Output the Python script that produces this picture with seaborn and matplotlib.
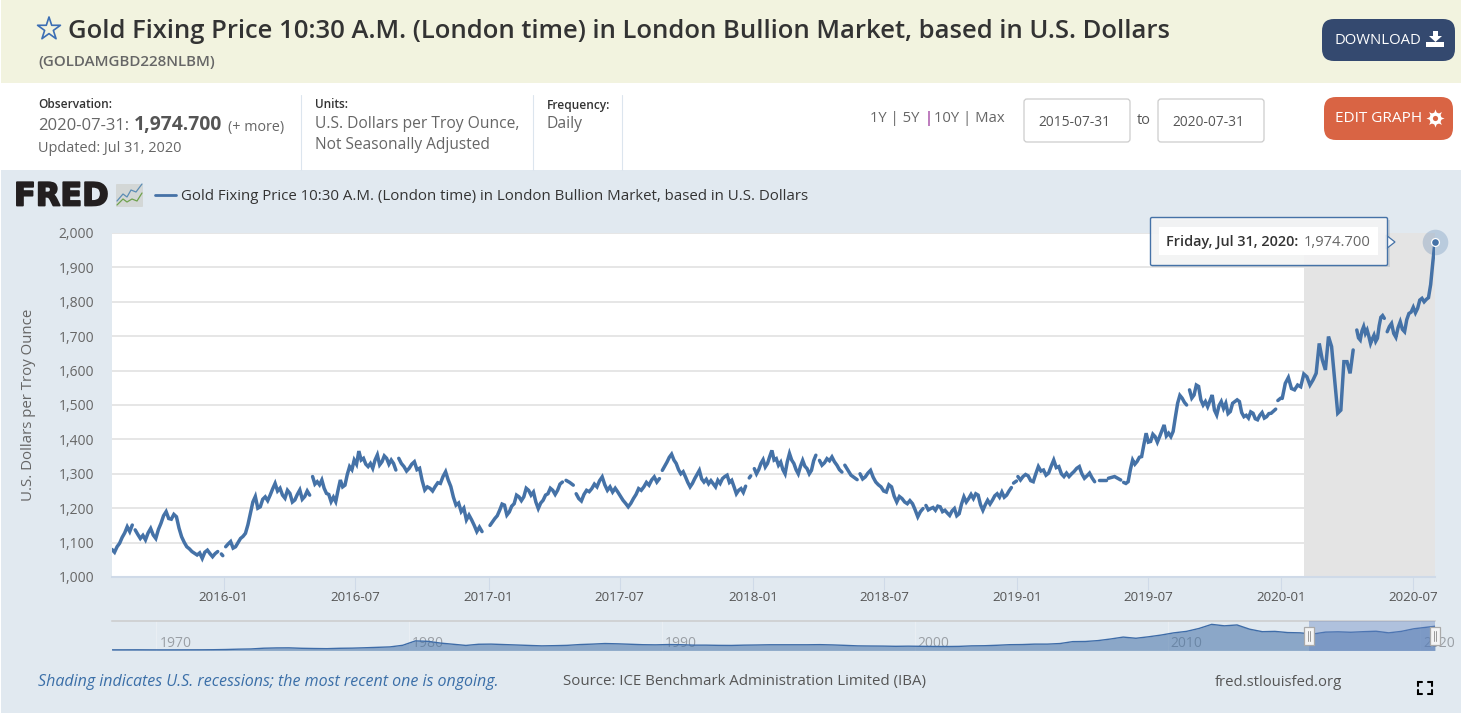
import pandas as pd
import numpy as np
import seaborn as sns
import matplotlib.pyplot as plt
import matplotlib.dates as mdates
import matplotlib.patheffects as pe
from matplotlib.patches import Rectangle, FancyBboxPatch, Polygon
from matplotlib.ticker import FuncFormatter

W, H = 1461, 713
BLUE = '#4572A7'
PANEL = '#E1E9F0'

# gold price, one list per stretch between market holidays
seg_dates = [
    ('2015-07-31', '2015-08-28'), ('2015-09-01', '2015-12-24'), ('2015-12-29', '2015-12-31'),
    ('2016-01-04', '2016-04-29'), ('2016-05-03', '2016-08-26'), ('2016-08-30', '2016-12-23'),
    ('2017-01-03', '2017-04-13'), ('2017-04-18', '2017-04-28'), ('2017-05-02', '2017-08-25'),
    ('2017-08-29', '2017-12-22'), ('2017-12-27', '2017-12-29'), ('2018-01-03', '2018-03-29'),
    ('2018-04-03', '2018-05-04'), ('2018-05-08', '2018-05-25'), ('2018-05-29', '2018-08-24'),
    ('2018-08-28', '2018-12-24'), ('2018-12-27', '2018-12-31'), ('2019-01-02', '2019-04-18'),
    ('2019-04-24', '2019-05-03'), ('2019-05-07', '2019-05-24'), ('2019-05-28', '2019-08-23'),
    ('2019-08-27', '2019-12-24'), ('2019-12-27', '2019-12-31'), ('2020-01-02', '2020-04-09'),
    ('2020-04-14', '2020-05-22'), ('2020-05-26', '2020-07-31'),
]
s01 = [1080, 1072, 1088, 1098, 1115, 1128, 1146, 1132, 1151]
s02 = [1137, 1124, 1112, 1121, 1108, 1128, 1141, 1122, 1112, 1138, 1156, 1178, 1190, 1170, 1168, 1182, 1175,
       1142, 1117, 1101, 1088, 1082, 1074, 1069, 1064, 1070, 1054, 1072, 1078, 1068, 1059, 1068, 1074]
s03 = [1067, 1062]
s04 = [1088, 1096, 1103, 1084, 1088, 1100, 1112, 1118, 1127, 1152, 1185, 1218, 1234, 1200, 1204, 1226, 1233, 1222,
       1238, 1256, 1272, 1250, 1258, 1238, 1229, 1252, 1243, 1218, 1224, 1240, 1253, 1226, 1234, 1250, 1238]
s05 = [1292, 1270, 1277, 1268, 1282, 1258, 1243, 1240, 1219, 1232, 1219, 1252, 1282, 1262, 1267, 1298, 1321, 1312,
       1340, 1328, 1366, 1340, 1345, 1328, 1321, 1330, 1316, 1340, 1355, 1326, 1335, 1352, 1345, 1328, 1340, 1330, 1311]
s06 = [1345, 1330, 1321, 1308, 1316, 1328, 1335, 1312, 1316, 1280, 1253, 1262, 1258, 1250, 1263, 1274, 1272, 1292,
       1306, 1282, 1263, 1232, 1209, 1215, 1190, 1200, 1166, 1180, 1166, 1150, 1132, 1145, 1132]
s07 = [1150, 1160, 1170, 1178, 1194, 1212, 1209, 1180, 1189, 1206, 1213, 1238, 1233, 1222, 1233, 1258,
       1252, 1238, 1247, 1218, 1199, 1215, 1223, 1238, 1242, 1258, 1252, 1240, 1252, 1270, 1276]
s08 = [1281, 1275, 1267]
s09 = [1242, 1228, 1221, 1240, 1252, 1248, 1257, 1270, 1262, 1280, 1291, 1268, 1252, 1262, 1247, 1258, 1247,
       1235, 1223, 1214, 1204, 1214, 1228, 1240, 1257, 1252, 1262, 1275, 1267, 1282, 1291, 1276, 1286]
s10 = [1310, 1322, 1334, 1348, 1357, 1340, 1330, 1312, 1300, 1306, 1291, 1275, 1262, 1272, 1286, 1298, 1310, 1285,
       1276, 1284, 1271, 1280, 1271, 1262, 1281, 1272, 1286, 1292, 1296, 1275, 1281, 1262, 1242, 1252, 1257, 1246, 1264]
s11 = [1288, 1294]
s12 = [1315, 1300, 1312, 1330, 1341, 1320, 1330, 1350, 1368, 1340, 1344, 1325, 1334, 1312, 1300,
       1335, 1359, 1340, 1330, 1312, 1300, 1322, 1339, 1322, 1315, 1300, 1310, 1338, 1354]
s13 = [1339, 1325, 1332, 1344, 1338, 1349, 1335, 1325, 1312, 1305]
s14 = [1325, 1296, 1283]
s15 = [1300, 1285, 1291, 1302, 1310, 1290, 1276, 1268, 1262, 1250, 1247, 1268, 1262, 1235, 1218, 1234, 1228,
       1218, 1213, 1222, 1213, 1195, 1175, 1190, 1199]
s16 = [1208, 1195, 1199, 1202, 1194, 1206, 1204, 1190, 1194, 1186, 1179, 1192, 1199, 1178, 1184, 1212, 1233, 1218, 1228,
       1240, 1228, 1242, 1238, 1210, 1194, 1210, 1223, 1212, 1223, 1236, 1242, 1232, 1247, 1232, 1238, 1250, 1260]
s17 = [1273, 1279]
s18 = [1292, 1282, 1292, 1298, 1294, 1280, 1277, 1300, 1321, 1308, 1311, 1296, 1302, 1322, 1340, 1318,
       1321, 1300, 1292, 1302, 1292, 1300, 1307, 1316, 1321, 1300, 1287, 1294, 1302, 1288, 1277]
s19 = [1282, 1282]
s20 = [1287, 1292, 1282]
s21 = [1275, 1272, 1277, 1312, 1340, 1328, 1336, 1348, 1350, 1385, 1418, 1392, 1394, 1415, 1408,
       1392, 1408, 1425, 1442, 1410, 1418, 1408, 1423, 1465, 1505, 1528, 1520, 1508, 1500]
s22 = [1544, 1520, 1529, 1558, 1554, 1515, 1500, 1510, 1495, 1512, 1529, 1485, 1471, 1498, 1510, 1490, 1505, 1475, 1481, 1505,
       1510, 1515, 1510, 1478, 1466, 1470, 1462, 1480, 1476, 1460, 1457, 1470, 1478, 1462, 1466, 1475, 1476, 1482, 1488]
s23 = [1513, 1520]
s24 = [1519, 1563, 1580, 1548, 1544, 1558, 1553, 1590, 1582, 1558, 1573, 1592, 1679, 1631, 1602, 1699, 1670, 1573, 1476, 1485, 1626, 1626, 1592, 1660]
s25 = [1718, 1695, 1689, 1715, 1728, 1708, 1718, 1700, 1679, 1692, 1703, 1685, 1694, 1730, 1755, 1760, 1752]
s26 = [1713, 1728, 1737, 1708, 1697, 1725, 1742, 1720, 1713, 1748, 1766, 1770, 1784, 1768, 1781, 1805, 1810, 1800, 1807, 1812, 1850, 1915, 1974.7]
seg_values = [s01, s02, s03, s04, s05, s06, s07, s08, s09, s10, s11, s12, s13,
              s14, s15, s16, s17, s18, s19, s20, s21, s22, s23, s24, s25, s26]

# navigator, two readings a year from 1968 on
nav_years = np.arange(1968.25, 2020.6, 0.5)
nav_values = [40, 40, 42, 38, 36, 37, 40, 42, 48, 62, 85, 100, 150, 170, 175, 145, 130, 120, 145, 155,
              180, 210, 240, 350, 650, 620, 500, 420, 340, 420, 430, 400, 370, 340, 310, 325, 345, 400,
              430, 470, 450, 420, 390, 380, 400, 390, 360, 360, 345, 340, 360, 370, 385, 385, 385, 385,
              395, 375, 345, 310, 300, 295, 280, 290, 280, 270, 265, 275, 310, 320, 350, 390, 400, 430,
              430, 470, 600, 610, 670, 780, 910, 830, 930, 1050, 1200, 1300, 1500, 1780, 1680, 1740,
              1450, 1280, 1300, 1220, 1200, 1120, 1250, 1270, 1240, 1280, 1310, 1200, 1300, 1480, 1650]
nav_labels = ['1970', '1980', '1990', '2000', '2010', '2020']

x_ticks = ['2016-01', '2016-07', '2017-01', '2017-07', '2018-01', '2018-07', '2019-01', '2019-07', '2020-01', '2020-07']
y_ticks = [1000, 1100, 1200, 1300, 1400, 1500, 1600, 1700, 1800, 1900, 2000]

frames = []
for i, ((a, b), vals) in enumerate(zip(seg_dates, seg_values)):
    frames.append(pd.DataFrame({'date': pd.date_range(a, b, periods=len(vals)), 'price': vals, 'seg': i}))
df = pd.concat(frames, ignore_index=True)

nav_dates = [pd.Timestamp(int(y), 4 if y % 1 < 0.5 else 10, 1) for y in nav_years]
nav_dates[-1] = pd.Timestamp('2020-07-31')
nav = pd.DataFrame({'date': nav_dates, 'price': nav_values[:len(nav_dates)]})

sns.set_theme(style='white')
plt.rcParams['font.family'] = ['Open Sans', 'DejaVu Sans']

fig = plt.figure(figsize=(W / 100, H / 100), dpi=100, facecolor='white')


def px_axes(x0, y0, x1, y1, z):
    return fig.add_axes([x0 / W, 1 - y1 / H, (x1 - x0) / W, (y1 - y0) / H], zorder=z)


# page furniture in pixel coordinates
bg = px_axes(0, 0, W, H, 0)
bg.set_xlim(0, W)
bg.set_ylim(H, 0)
bg.axis('off')
fg = px_axes(0, 0, W, H, 5)
fg.set_xlim(0, W)
fg.set_ylim(H, 0)
fg.axis('off')
fg.patch.set_alpha(0)

bg.add_patch(Rectangle((1, 0), W, 83, color='#F2F3DF', lw=0))
bg.add_patch(Rectangle((1, 170), W, H - 170, color=PANEL, lw=0))
for x in [301, 533, 622]:
    bg.plot([x, x], [95, 170], color='#DCE5EE', lw=0.8)


def put(ax, s, x0, x1, y, size, color='#555555', weight='normal', style='normal', ha='left', family=None):
    # size the string so it spans the same pixels as the original
    t = ax.text(x0, y + 2, s, fontsize=size, color=color, fontweight=weight, fontstyle=style,
                ha=ha, va='center', family=family)
    if x1 is not None:
        w = t.get_window_extent(fig.canvas.get_renderer()).width
        t.set_fontsize(size * (x1 - x0) / w)
    return t


put(bg, 'Gold Fixing Price 10:30 A.M. (London time) in London Bullion Market, based in U.S. Dollars',
    68, 1170, 30, 17, color='#333333', weight='semibold')
put(bg, '(GOLDAMGBD228NLBM)', 38, 214, 60, 9, color='#666666', weight='semibold')
bg.scatter([49], [29], marker='*', s=300, facecolor='none', edgecolor='#3C6EB4', linewidth=1.2)

put(bg, 'Observation:', 38, 112, 103, 8, color='#333333', weight='semibold')
put(bg, '2020-07-31:', 38, 129, 124, 10, color='#666666')
put(bg, '1,974.700', 134, 222, 123, 13, color='#555555', weight='bold')
put(bg, '(+ more)', 228, 284, 125, 9, color='#666666')
put(bg, 'Updated: Jul 31, 2020', 38, 182, 146, 10, color='#666666')
put(bg, 'Units:', 315, 348, 103, 8, color='#333333', weight='semibold')
put(bg, 'U.S. Dollars per Troy Ounce,', 315, 521, 122, 10.5, color='#666666')
put(bg, 'Not Seasonally Adjusted', 315, 491, 143, 10.5, color='#666666')
put(bg, 'Frequency:', 547, 610, 103, 8, color='#333333', weight='semibold')
put(bg, 'Daily', 547, 583, 122, 10.5, color='#666666')

put(bg, '1Y | 5Y', 870, 920, 116, 10.5, color='#666666')
put(bg, '|', 924, None, 116, 10.5, color='#800080')
put(bg, '10Y | Max', 934, 1005, 116, 10.5, color='#666666')
for x0, x1, s in [(1024, 1130, '2015-07-31'), (1158, 1264, '2020-07-31')]:
    bg.add_patch(FancyBboxPatch((x0 + 3, 102), x1 - x0 - 6, 37, boxstyle='round,pad=3', fc='white', ec='#CCCCCC', lw=0.9))
    put(bg, s, x0 + 14, x0 + 86, 120, 9.5, color='#555555')
put(bg, 'to', 1137, 1151, 119, 10.5, color='#555555')

# buttons
bg.add_patch(FancyBboxPatch((1334, 31), 109, 18, boxstyle='round,pad=12', fc='#34496F', ec='none'))
put(bg, 'DOWNLOAD', 1334, 1421, 38, 10.5, color='white')
bg.add_patch(Polygon([[1433, 31], [1438, 31], [1438, 36], [1442, 36], [1435.5, 42], [1429, 36], [1433, 36]], fc='white', ec='none'))
bg.add_patch(Rectangle((1426, 42), 18, 5, fc='white', ec='none'))
bg.add_patch(FancyBboxPatch((1336, 109), 105, 19, boxstyle='round,pad=12', fc='#D96444', ec='none'))
put(bg, 'EDIT GRAPH', 1335, 1422, 116, 10.5, color='white')
bg.scatter([1435], [118], marker=(8, 1, 0), s=170, color='white', lw=0)
bg.scatter([1435], [118], marker='o', s=75, color='white', lw=0)
bg.scatter([1435], [118], marker='o', s=14, color='#D96444', lw=0)

# FRED logo and legend line
logo = put(bg, 'FRED', 14, 109, 195, 24, color='#231F20', weight='bold', family='DejaVu Sans')
logo.set_path_effects([pe.withStroke(linewidth=1.3, foreground='#231F20')])
bg.add_patch(FancyBboxPatch((117, 185), 25, 21, boxstyle='round,pad=1', fc='#D3D7D6', ec='none'))
bg.plot([117, 123, 127, 131, 136, 142], [201, 194, 197, 190, 192, 184], color='#5B8DB5', lw=0.9)
bg.plot([117, 123, 127, 132, 137, 142], [205, 199, 202, 199, 201, 193], color='#6FA24E', lw=0.9)
bg.plot([155, 176], [195, 195], color=BLUE, lw=2)
put(bg, 'Gold Fixing Price 10:30 A.M. (London time) in London Bullion Market, based in U.S. Dollars',
    181, 806, 194, 10, color='#333333')

# main chart
ax = px_axes(112, 233, 1435, 577, 2)
ax.set_facecolor('white')
sns.lineplot(data=df, x='date', y='price', units='seg', estimator=None, color=BLUE, lw=2.5,
             solid_joinstyle='miter', solid_capstyle='round', legend=False, ax=ax, zorder=3)
ax.axvspan(pd.Timestamp('2020-02-01'), pd.Timestamp('2020-07-31'), color='#E4E4E4', lw=0, zorder=1)
ax.set_xlim(pd.Timestamp('2015-07-31'), pd.Timestamp('2020-07-31'))
ax.set_ylim(1000, 2000)
ax.set_yticks(y_ticks)
ax.yaxis.set_major_formatter(FuncFormatter(lambda v, p: f'{int(v):,}'))
ax.set_xticks([pd.Timestamp(t + '-01') for t in x_ticks])
ax.xaxis.set_major_formatter(mdates.DateFormatter('%Y-%m'))
ax.grid(axis='y', color='#E6E6E6', lw=1.4, zorder=2)
ax.grid(axis='x', visible=False)
ax.set_axisbelow(True)
for s in ['top', 'left', 'right']:
    ax.spines[s].set_visible(False)
ax.spines['bottom'].set_color('#CFDAE8')
ax.spines['bottom'].set_linewidth(1.5)
ax.tick_params(axis='x', length=9, width=0.8, color='#CFDAE8', labelcolor='#555555', labelsize=9.6, pad=1, bottom=True)
ax.tick_params(axis='y', length=0, labelcolor='#666666', labelsize=10, pad=13, left=False)
ax.set_xlabel('')
ax.set_ylabel('')
bg.text(29, 405, 'U.S. Dollars per Troy Ounce', rotation=90, ha='center', va='center', fontsize=10.8, color='#666666')

# navigator strip
ax2 = px_axes(112, 621, 1435, 651, 3)
ax2.patch.set_alpha(0)
ax2.fill_between(nav['date'], nav['price'], 0, color=BLUE, alpha=0.55, lw=0, zorder=3)
sns.lineplot(data=nav, x='date', y='price', color='#3E6CA8', lw=1, legend=False, ax=ax2, zorder=4)
ax2.axvspan(pd.Timestamp('2015-07-31'), pd.Timestamp('2020-07-31'), color='#6685C2', alpha=0.4, lw=0, zorder=5)
ax2.set_xlim(pd.Timestamp('1968-04-01'), pd.Timestamp('2020-07-31'))
ax2.set_ylim(-40, 2010)
for lab in nav_labels:
    d = pd.Timestamp(lab + '-01-01')
    ax2.axvline(d, color='#E9EEF3', lw=0.8, zorder=1)
    ax2.annotate(lab, (d, 0.26), xycoords=('data', 'axes fraction'), xytext=(3, 0), textcoords='offset pixels',
                 color='#9A9FA5', fontsize=10, va='center', ha='left', zorder=2, annotation_clip=False)
ax2.set_xticks([])
ax2.set_yticks([])
ax2.set_xlabel('')
ax2.set_ylabel('')
for s in ['left', 'right', 'bottom']:
    ax2.spines[s].set_visible(False)
ax2.spines['top'].set_color('#CCCCCC')
ax2.spines['top'].set_linewidth(1.1)

for x0 in [1304, 1430]:
    fg.add_patch(Rectangle((x0, 627), 9.5, 18, fc='#F5F5F5', ec='#AAAAAA', lw=0.9))
    fg.plot([x0 + 3.6, x0 + 3.6], [631, 641], color='#999999', lw=0.7)
    fg.plot([x0 + 6, x0 + 6], [631, 641], color='#999999', lw=0.7)

# tooltip and end marker
fg.add_patch(Polygon([[1386, 235], [1395, 242], [1386, 249]], fc='#F6F7F8', ec=BLUE, lw=0.9, zorder=3))
fg.add_patch(Rectangle((1151.5, 219.5), 238, 47, fc='#9AA6B2', ec='none', alpha=0.35, zorder=2))
fg.add_patch(FancyBboxPatch((1152, 219), 234, 45, boxstyle='round,pad=1.5', fc=(0.97, 0.97, 0.97, 0.88), ec=BLUE, lw=1, zorder=4))
fg.add_patch(Rectangle((1159, 227), 219, 28, fc='white', ec='none', zorder=5))
put(fg, 'Friday, Jul 31, 2020:', 1166, 1299, 240, 10, color='#333333', weight='semibold').set_zorder(6)
put(fg, '1,974.700', 1304, 1371, 240, 10, color='#666666').set_zorder(6)
ax.scatter([pd.Timestamp('2020-07-31')], [s26[-1]], s=340, color=BLUE, alpha=0.25, lw=0, zorder=6, clip_on=False)
ax.scatter([pd.Timestamp('2020-07-31')], [s26[-1]], s=32, color=BLUE, edgecolor='white', linewidth=0.9, zorder=7, clip_on=False)

# footer
put(bg, 'Shading indicates U.S. recessions; the most recent one is ongoing.', 38, 498, 680, 10.5, color='#3B6FA8', style='italic')
put(bg, 'Source: ICE Benchmark Administration Limited (IBA)', 563, 926, 680, 10.5, color='#555555')
put(bg, 'fred.stlouisfed.org', 1215, 1343, 680, 10.5, color='#555555')
for cx, cy, dx, dy in [(1418, 682, 1, 1), (1432, 682, -1, 1), (1418, 694, 1, -1), (1432, 694, -1, -1)]:
    bg.plot([cx + 4 * dx, cx, cx], [cy, cy, cy + 4 * dy], color='black', lw=1.5, solid_joinstyle='miter')

fig.savefig('out.png', dpi=100)
